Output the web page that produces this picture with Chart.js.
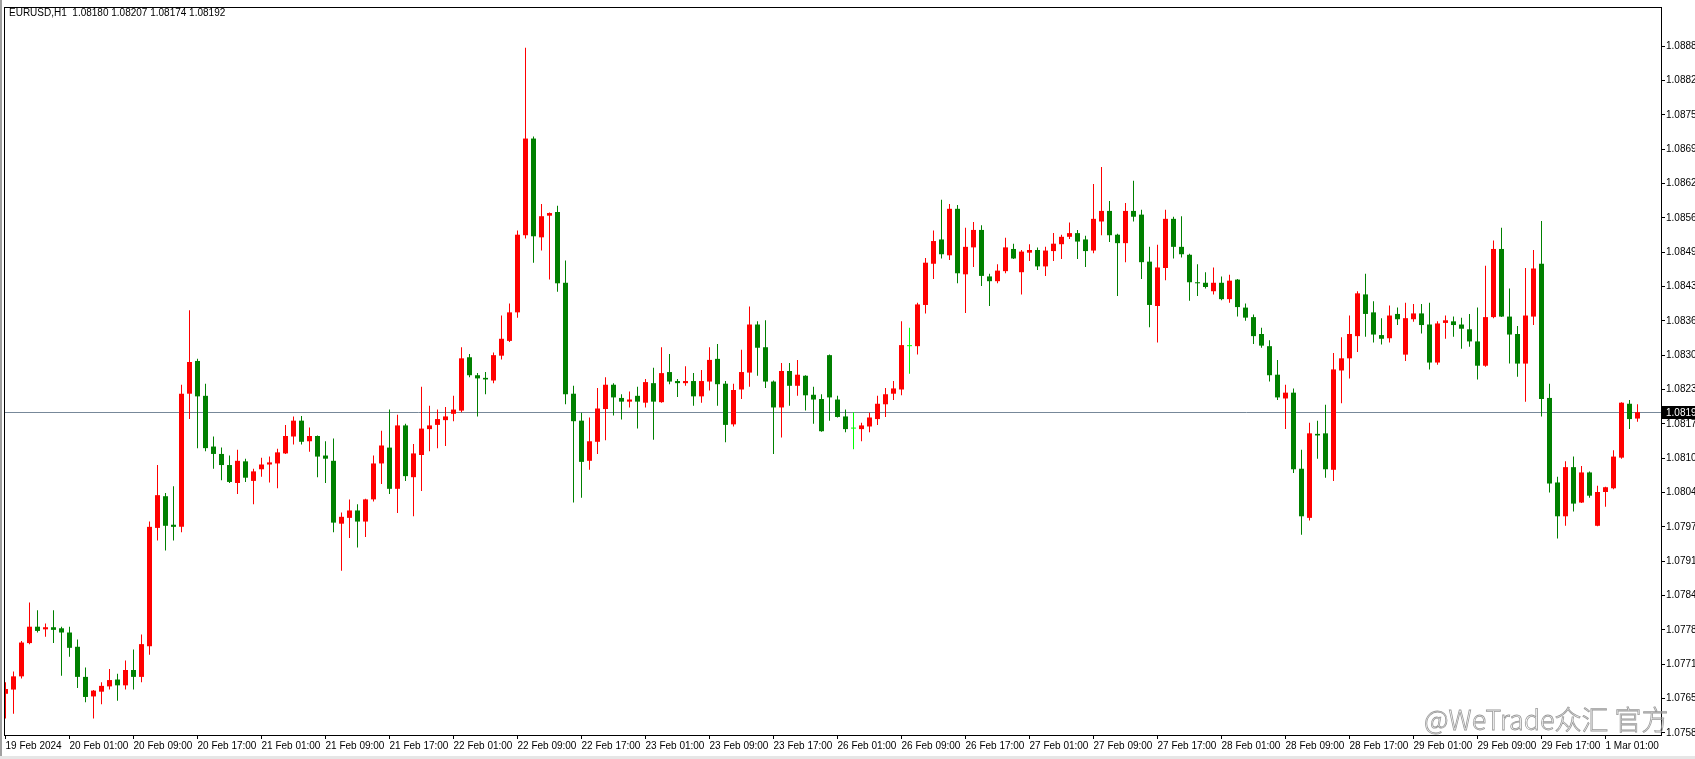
<!DOCTYPE html>
<html>
<head>
<meta charset="utf-8">
<title>EURUSD,H1</title>
<script src="https://cdn.jsdelivr.net/npm/chart.js@4.4.1/dist/chart.umd.min.js"></script>
<style>
body { margin: 0; background: #fff; }
canvas { display: block; }
</style>
</head>
<body>
<canvas id="chartCanvas" width="1695" height="759"></canvas>
<script>
const chartTitle = "EURUSD,H1  1.08180 1.08207 1.08174 1.08192";
const watermark = "@WeTrade众汇 官方";

// H1 bars, 19 Feb 2024 17:00 .. 1 Mar 2024 05:00
const opens = [
1.07659,1.07667,1.07692,1.07755,1.07786,1.07781,1.07785,1.07783,1.07775,1.07748,
1.07691,1.07654,1.07663,1.07673,1.07686,1.07675,1.07704,1.07691,1.07749,1.07973,
1.08033,1.07979,1.07975,1.08227,1.08289,1.08223,1.08127,1.08113,1.08092,1.08058,
1.08099,1.08062,1.08084,1.08093,1.08095,1.08114,1.08146,1.08176,1.08137,1.08147,
1.08110,1.08100,1.07981,1.07992,1.08006,1.07985,1.08027,1.08095,1.08125,1.08047,
1.08167,1.08069,1.08111,1.08160,1.08168,1.08177,1.08189,1.08195,1.08296,1.08262,
1.08257,1.08252,1.08299,1.08327,1.08381,1.08527,1.08710,1.08523,1.08564,1.08571,
1.08437,1.08227,1.08176,1.08100,1.08136,1.08198,1.08244,1.08219,1.08212,1.08223,
1.08210,1.08247,1.08211,1.08268,1.08251,1.08247,1.08251,1.08222,1.08250,1.08293,
1.08246,1.08169,1.08235,1.08267,1.08358,1.08315,1.08250,1.08201,1.08270,1.08242,
1.08261,1.08225,1.08217,1.08300,1.08216,1.08184,1.08161,1.08160,1.08165,1.08179,
1.08207,1.08227,1.08235,1.08317,1.08317,1.08395,1.08473,1.08519,1.08489,1.08577,
1.08453,1.08504,1.08537,1.08449,1.08440,1.08459,1.08501,1.08457,1.08494,1.08499,
1.08468,1.08497,1.08510,1.08524,1.08531,1.08519,1.08498,1.08553,1.08573,1.08528,
1.08512,1.08573,1.08566,1.08477,1.08393,1.08465,1.08558,1.08505,1.08490,1.08438,
1.08437,1.08421,1.08437,1.08406,1.08443,1.08390,1.08372,1.08340,1.08317,1.08263,
1.08218,1.08229,1.08085,1.07992,1.08151,1.08152,1.08083,1.08271,1.08294,1.08336,
1.08415,1.08381,1.08338,1.08332,1.08378,1.08301,1.08368,1.08379,1.08358,1.08286,
1.08361,1.08364,1.08358,1.08349,1.08326,1.08280,1.08372,1.08501,1.08373,1.08340,
1.08284,1.08373,1.08473,1.08219,1.08059,1.07995,1.08088,1.08021,1.08078,1.07977,
1.08041,1.08048,1.08106,1.08208,1.08180
];
const highs = [
1.07681,1.07701,1.07759,1.07832,1.07817,1.07792,1.07817,1.07786,1.07786,1.07762,
1.07709,1.07666,1.07681,1.07706,1.07697,1.07722,1.07743,1.07771,1.07985,1.08092,
1.08039,1.08052,1.08244,1.08385,1.08293,1.08246,1.08146,1.08125,1.08110,1.08121,
1.08104,1.08085,1.08106,1.08108,1.08123,1.08168,1.08184,1.08185,1.08163,1.08148,
1.08137,1.08142,1.08002,1.08027,1.08018,1.08028,1.08110,1.08157,1.08197,1.08187,
1.08170,1.08132,1.08240,1.08204,1.08197,1.08202,1.08223,1.08315,1.08302,1.08266,
1.08268,1.08305,1.08375,1.08398,1.08536,1.08882,1.08714,1.08586,1.08570,1.08583,
1.08479,1.08242,1.08191,1.08182,1.08238,1.08258,1.08247,1.08226,1.08231,1.08240,
1.08255,1.08276,1.08315,1.08302,1.08255,1.08279,1.08266,1.08272,1.08315,1.08321,
1.08251,1.08246,1.08310,1.08392,1.08364,1.08366,1.08252,1.08285,1.08285,1.08291,
1.08262,1.08240,1.08226,1.08301,1.08223,1.08197,1.08192,1.08172,1.08191,1.08223,
1.08238,1.08251,1.08364,1.08352,1.08399,1.08484,1.08536,1.08594,1.08586,1.08584,
1.08541,1.08552,1.08546,1.08454,1.08472,1.08522,1.08511,1.08499,1.08510,1.08504,
1.08505,1.08531,1.08528,1.08551,1.08537,1.08526,1.08624,1.08656,1.08592,1.08530,
1.08588,1.08630,1.08575,1.08505,1.08509,1.08575,1.08562,1.08563,1.08492,1.08472,
1.08457,1.08466,1.08449,1.08452,1.08444,1.08398,1.08377,1.08352,1.08328,1.08291,
1.08244,1.08237,1.08121,1.08172,1.08176,1.08206,1.08304,1.08334,1.08375,1.08421,
1.08454,1.08402,1.08370,1.08394,1.08390,1.08399,1.08397,1.08397,1.08399,1.08364,
1.08375,1.08373,1.08371,1.08378,1.08390,1.08469,1.08517,1.08541,1.08426,1.08355,
1.08465,1.08499,1.08554,1.08246,1.08070,1.08099,1.08108,1.08090,1.08080,1.08053,
1.08051,1.08120,1.08211,1.08215,1.08207
];
const lows = [
1.07612,1.07621,1.07688,1.07753,1.07775,1.07767,1.07755,1.07693,1.07729,1.07670,
1.07643,1.07612,1.07639,1.07667,1.07646,1.07667,1.07667,1.07681,1.07733,1.07949,
1.07930,1.07949,1.07965,1.08179,1.08124,1.08118,1.08085,1.08063,1.08058,1.08037,
1.08060,1.08018,1.08070,1.08059,1.08048,1.08113,1.08131,1.08131,1.08117,1.08069,
1.08058,1.07965,1.07892,1.07954,1.07936,1.07956,1.08023,1.08056,1.08037,1.08001,
1.08062,1.07995,1.08043,1.08118,1.08124,1.08128,1.08175,1.08192,1.08258,1.08184,
1.08226,1.08247,1.08292,1.08325,1.08371,1.08521,1.08475,1.08498,1.08443,1.08420,
1.08207,1.08021,1.08030,1.08083,1.08113,1.08139,1.08186,1.08178,1.08201,1.08161,
1.08201,1.08140,1.08210,1.08245,1.08221,1.08242,1.08204,1.08210,1.08233,1.08204,
1.08135,1.08165,1.08217,1.08240,1.08261,1.08238,1.08113,1.08144,1.08204,1.08223,
1.08195,1.08170,1.08155,1.08176,1.08182,1.08154,1.08122,1.08137,1.08154,1.08168,
1.08183,1.08215,1.08224,1.08265,1.08301,1.08379,1.08444,1.08483,1.08480,1.08436,
1.08380,1.08467,1.08431,1.08393,1.08436,1.08455,1.08482,1.08415,1.08478,1.08461,
1.08450,1.08478,1.08482,1.08520,1.08482,1.08467,1.08493,1.08527,1.08514,1.08412,
1.08476,1.08553,1.08444,1.08353,1.08324,1.08442,1.08483,1.08485,1.08403,1.08412,
1.08426,1.08415,1.08404,1.08399,1.08373,1.08365,1.08321,1.08314,1.08250,1.08215,
1.08160,1.08077,1.07960,1.07987,1.08104,1.08068,1.08062,1.08209,1.08256,1.08306,
1.08335,1.08324,1.08320,1.08324,1.08357,1.08289,1.08363,1.08341,1.08273,1.08282,
1.08331,1.08335,1.08312,1.08316,1.08254,1.08278,1.08370,1.08372,1.08284,1.08259,
1.08212,1.08357,1.08184,1.08040,1.07953,1.07977,1.08004,1.08020,1.08030,1.07976,
1.08013,1.08046,1.08104,1.08160,1.08174
];
const closes = [
1.07668,1.07692,1.07756,1.07786,1.07778,1.07785,1.07780,1.07775,1.07746,1.07691,
1.07653,1.07665,1.07674,1.07685,1.07675,1.07704,1.07691,1.07753,1.07975,1.08035,
1.07977,1.07975,1.08227,1.08287,1.08222,1.08124,1.08113,1.08092,1.08060,1.08100,
1.08068,1.08080,1.08093,1.08097,1.08116,1.08147,1.08176,1.08136,1.08147,1.08108,
1.08104,1.07983,1.07994,1.08006,1.07985,1.08027,1.08095,1.08129,1.08047,1.08167,
1.08071,1.08114,1.08161,1.08167,1.08179,1.08184,1.08197,1.08294,1.08262,1.08256,
1.08254,1.08300,1.08331,1.08381,1.08528,1.08710,1.08525,1.08563,1.08569,1.08436,
1.08226,1.08175,1.08098,1.08137,1.08199,1.08244,1.08220,1.08212,1.08216,1.08212,
1.08249,1.08212,1.08266,1.08250,1.08247,1.08251,1.08222,1.08251,1.08291,1.08245,
1.08168,1.08234,1.08268,1.08358,1.08314,1.08250,1.08201,1.08270,1.08242,1.08263,
1.08224,1.08216,1.08156,1.08220,1.08183,1.08160,1.08161,1.08167,1.08182,1.08208,
1.08226,1.08237,1.08319,1.08317,1.08396,1.08475,1.08516,1.08491,1.08577,1.08455,
1.08505,1.08537,1.08450,1.08440,1.08460,1.08504,1.08483,1.08496,1.08499,1.08468,
1.08498,1.08511,1.08524,1.08531,1.08515,1.08497,1.08558,1.08573,1.08527,1.08512,
1.08573,1.08562,1.08476,1.08395,1.08466,1.08558,1.08505,1.08491,1.08438,1.08436,
1.08429,1.08437,1.08406,1.08441,1.08391,1.08371,1.08336,1.08318,1.08262,1.08220,
1.08229,1.08084,1.07995,1.08152,1.08148,1.08084,1.08273,1.08294,1.08340,1.08417,
1.08378,1.08339,1.08331,1.08375,1.08368,1.08370,1.08379,1.08357,1.08286,1.08360,
1.08366,1.08357,1.08350,1.08326,1.08280,1.08372,1.08501,1.08373,1.08339,1.08284,
1.08375,1.08464,1.08217,1.08057,1.07995,1.08088,1.08019,1.08078,1.08034,1.08041,
1.08050,1.08108,1.08210,1.08179,1.08192
];

// time axis: one label every 8 bars
const xTickBars = [0, 8, 16, 24, 32, 40, 48, 56, 64, 72, 80, 88, 96, 104, 112, 120, 128, 136, 144, 152, 160, 168, 176, 184, 192, 200];
const xTickLabels = ["19 Feb 2024", "20 Feb 01:00", "20 Feb 09:00", "20 Feb 17:00", "21 Feb 01:00", "21 Feb 09:00", "21 Feb 17:00",
    "22 Feb 01:00", "22 Feb 09:00", "22 Feb 17:00", "23 Feb 01:00", "23 Feb 09:00", "23 Feb 17:00", "26 Feb 01:00", "26 Feb 09:00",
    "26 Feb 17:00", "27 Feb 01:00", "27 Feb 09:00", "27 Feb 17:00", "28 Feb 01:00", "28 Feb 09:00", "28 Feb 17:00", "29 Feb 01:00",
    "29 Feb 09:00", "29 Feb 17:00", "1 Mar 01:00"];
const yTicks = [1.07585, 1.07650, 1.07715, 1.07780, 1.07845, 1.07910, 1.07975, 1.08040, 1.08105, 1.08170, 1.08235,
    1.08300, 1.08365, 1.08430, 1.08495, 1.08560, 1.08625, 1.08690, 1.08755, 1.08820, 1.08885];

const upColor = "#ff0000";
const downColor = "#008000";
const dojiColor = "#00ff00";

function candleColor(i) {
    if (closes[i] > opens[i]) return upColor;
    if (closes[i] < opens[i]) return downColor;
    return dojiColor;
}

const bodyData = opens.map((o, i) => ({ x: i, y: [o, closes[i]] }));
const wickData = lows.map((l, i) => ({ x: i, y: [l, highs[i]] }));
const lastClose = closes[closes.length - 1];

// frame, bid line, price box, title, watermark
const terminalLook = {
    id: "terminalLook",
    beforeDraw(chart) {
        const ctx = chart.ctx;
        ctx.save();
        ctx.fillStyle = "#ffffff";
        ctx.fillRect(0, 0, chart.width, chart.height);
        ctx.fillStyle = "#a0a0a0";
        ctx.fillRect(0, 0, 2, chart.height);
        ctx.fillStyle = "#e6e6e6";
        ctx.fillRect(0, chart.height - 3, chart.width, 3);
        ctx.restore();
    },
    beforeDatasetsDraw(chart) {
        const ctx = chart.ctx;
        const area = chart.chartArea;
        const y = Math.round(chart.scales.y.getPixelForValue(lastClose)) + 0.5;
        ctx.save();
        ctx.strokeStyle = "#778899";
        ctx.lineWidth = 1;
        ctx.beginPath();
        ctx.moveTo(area.left, y);
        ctx.lineTo(area.right, y);
        ctx.stroke();
        ctx.restore();
    },
    afterDraw(chart) {
        const ctx = chart.ctx;
        const area = chart.chartArea;
        ctx.save();
        ctx.strokeStyle = "#000000";
        ctx.lineWidth = 1;
        ctx.strokeRect(area.left + 0.5, area.top + 0.5, area.right - area.left, area.bottom - area.top);

        // current price box on the price scale
        const y = Math.round(chart.scales.y.getPixelForValue(lastClose));
        ctx.fillStyle = "#000000";
        ctx.fillRect(area.right + 1, y - 6, chart.width - area.right, 13);
        ctx.fillStyle = "#ffffff";
        ctx.font = "10px 'Liberation Sans', Arial, sans-serif";
        ctx.textBaseline = "middle";
        ctx.fillText(lastClose.toFixed(5), area.right + 5, y + 1);

        ctx.fillStyle = "#000000";
        ctx.fillText(chartTitle, 9, 13);

        ctx.font = "300 27px 'Noto Sans CJK SC', sans-serif";
        ctx.textBaseline = "alphabetic";
        ctx.strokeStyle = "#9a9a9a";
        ctx.lineWidth = 0.8;
        ctx.strokeText(watermark, 1424, 730);
        ctx.restore();
    }
};

const ctx = document.getElementById("chartCanvas").getContext("2d");
Chart.defaults.font.family = "'Liberation Sans', Arial, sans-serif";
Chart.defaults.font.size = 10;
Chart.defaults.color = "#000000";

new Chart(ctx, {
    type: "bar",
    data: {
        datasets: [{
            label: "body",
            data: bodyData,
            backgroundColor: c => candleColor(c.dataIndex),
            barThickness: 5,
            minBarLength: 1,
            grouped: false,
            inflateAmount: 0,
            borderWidth: 0
        }, {
            label: "wick",
            data: wickData,
            backgroundColor: c => candleColor(c.dataIndex),
            barThickness: 1,
            grouped: false,
            inflateAmount: 0,
            borderWidth: 0
        }]
    },
    options: {
        responsive: false,
        animation: false,
        layout: { padding: { left: 4, top: 2, right: 0, bottom: 0 } },
        plugins: { legend: { display: false }, tooltip: { enabled: false } },
        scales: {
            x: {
                type: "linear",
                offset: false,
                min: -0.1875,
                max: 206.9375,
                afterBuildTicks: scale => { scale.ticks = xTickBars.map(v => ({ value: v })); },
                afterFit: scale => { scale.height = 24; },
                border: { display: false },
                grid: { offset: false, drawOnChartArea: false, drawTicks: true, tickLength: 4, color: "#000000" },
                ticks: {
                    autoSkip: false,
                    maxRotation: 0,
                    align: "start",
                    labelOffset: 0,
                    padding: 1,
                    callback: (v, i) => xTickLabels[i]
                }
            },
            y: {
                position: "right",
                min: 1.07581,
                max: 1.08959,
                afterBuildTicks: scale => { scale.ticks = yTicks.map(v => ({ value: v })); },
                afterFit: scale => { scale.width = 34; },
                border: { display: false },
                grid: { drawOnChartArea: false, drawTicks: true, tickLength: 4, color: "#000000" },
                ticks: {
                    padding: 1,
                    callback: v => v.toFixed(5)
                }
            }
        }
    },
    plugins: [terminalLook]
});
</script>
</body>
</html>
